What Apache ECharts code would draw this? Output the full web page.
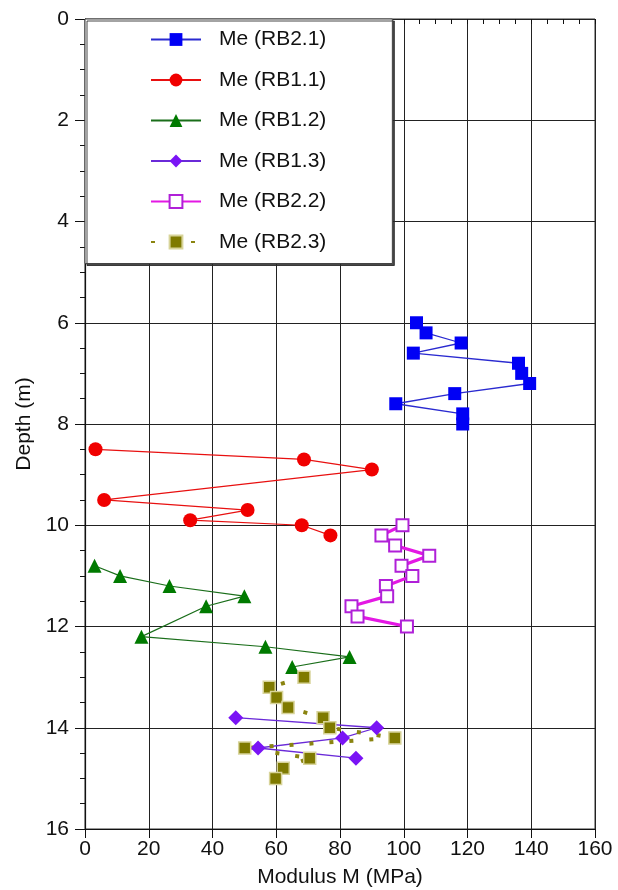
<!DOCTYPE html>
<html>
<head>
<meta charset="utf-8">
<script src="https://cdn.jsdelivr.net/npm/echarts@6/dist/echarts.min.js"></script>
<style>
  html, body { margin: 0; padding: 0; background: #fff; }
  #chart { width: 618px; height: 890px; }
</style>
</head>
<body>
<div id="chart"></div>
<script>
// Modulus (MPa) against depth (m) for each borehole
const depthRB21 = [6.0, 6.2, 6.4, 6.6, 6.8, 7.0, 7.2, 7.4, 7.6, 7.8, 8.0];
const modRB21   = [104, 107, 118, 103, 136, 137, 139.5, 116, 97.5, 118.5, 118.5];

const depthRB11 = [8.5, 8.7, 8.9, 9.5, 9.7, 9.9, 10.0, 10.2];
const modRB11   = [3.3, 68.7, 90, 6, 51, 33, 68, 77];

const depthRB12 = [10.8, 11.0, 11.2, 11.4, 11.6, 12.2, 12.4, 12.6, 12.8];
const modRB12   = [3, 11, 26.5, 50, 38, 17.7, 56.6, 83, 65];

const depthRB13 = [13.8, 14.0, 14.2, 14.4, 14.6];
const modRB13   = [47.3, 91.5, 80.8, 54.3, 85];

const depthRB22 = [10.0, 10.2, 10.4, 10.6, 10.8, 11.0, 11.2, 11.4, 11.6, 11.8, 12.0];
const modRB22   = [99.6, 93, 97.3, 108, 99.3, 102.7, 94.4, 94.8, 83.6, 85.5, 101];

const depthRB23 = [13.0, 13.2, 13.4, 13.6, 13.8, 14.0, 14.2, 14.4, 14.6, 14.8, 15.0];
const modRB23   = [68.7, 57.8, 60.1, 63.7, 74.7, 76.8, 97.2, 50.1, 70.5, 62.2, 59.8];

const seriesNames = ['Me (RB2.1)', 'Me (RB1.1)', 'Me (RB1.2)', 'Me (RB1.3)', 'Me (RB2.2)', 'Me (RB2.3)'];
const xTicks = { min: 0, max: 160, step: 20, minorStep: 5 };
const yTicks = { min: 0, max: 16, step: 2, minorStep: 0.5 };

function pairs(mods, depths) {
  return mods.map((m, i) => [m, depths[i]]);
}

const FONT = 'Liberation Sans, Arial, Helvetica, sans-serif';
const chart = echarts.init(document.getElementById('chart'), null, { renderer: 'canvas' });

// axis carrying only the minor ticks
function minorAxis(base, extra) {
  return Object.assign({
    type: 'value',
    min: base.min, max: base.max, interval: base.minorStep,
    axisLine: { show: false },
    axisTick: { show: true, length: 5, lineStyle: { color: '#111' } },
    axisLabel: { show: false },
    splitLine: { show: false }
  }, extra);
}

chart.setOption({
  animation: false,
  backgroundColor: '#ffffff',
  textStyle: { fontFamily: FONT },
  grid: {
    left: 85, right: 23, top: 19, bottom: 61,
    outerBoundsMode: 'none', containLabel: false,
    show: true, borderColor: '#333', borderWidth: 1, backgroundColor: 'transparent'
  },
  legend: {
    orient: 'vertical',
    left: 85, top: 19,
    padding: [10, 66, 11, 65],
    itemWidth: 50, itemHeight: 16, itemGap: 19.5,
    backgroundColor: '#ffffff',
    borderColor: '#444', borderWidth: 1,
    shadowColor: 'rgba(40,40,40,0.85)', shadowOffsetX: 2, shadowOffsetY: 2, shadowBlur: 0,
    textStyle: { fontSize: 21, color: '#111', padding: [0, 0, 0, 13], fontFamily: FONT },
    data: seriesNames
  },
  xAxis: [
    {
      type: 'value', position: 'bottom',
      min: xTicks.min, max: xTicks.max, interval: xTicks.step,
      name: 'Modulus M (MPa)', nameLocation: 'middle', nameGap: 38,
      nameTextStyle: { fontSize: 21, color: '#111' },
      axisLine: { show: true, onZero: false, lineStyle: { color: '#111', width: 1.2 } },
      axisTick: { show: true, inside: false, length: 9, lineStyle: { color: '#111' } },
      axisLabel: { fontSize: 21, color: '#111', margin: 10 },
      splitLine: { show: true, lineStyle: { color: '#222', width: 1 } }
    },
    minorAxis(xTicks, { position: 'bottom' })
  ],
  yAxis: [
    {
      type: 'value', inverse: true, position: 'left',
      min: yTicks.min, max: yTicks.max, interval: yTicks.step,
      name: 'Depth (m)', nameLocation: 'middle', nameGap: 50, nameRotate: 90,
      nameTextStyle: { fontSize: 21, color: '#111' },
      axisLine: { show: true, onZero: false, lineStyle: { color: '#111', width: 1.2 } },
      axisTick: { show: true, inside: false, length: 10, lineStyle: { color: '#111' } },
      axisLabel: { fontSize: 21, color: '#111', margin: 16 },
      splitLine: { show: true, lineStyle: { color: '#222', width: 1 } }
    },
    minorAxis(yTicks, { inverse: true, position: 'left' })
  ],
  series: [
    {
      name: seriesNames[0], type: 'line', data: pairs(modRB21, depthRB21),
      symbol: 'rect', symbolSize: 13,
      itemStyle: { color: '#0000f5' },
      lineStyle: { color: '#2a2ad0', width: 1.3 }
    },
    {
      name: seriesNames[1], type: 'line', data: pairs(modRB11, depthRB11),
      symbol: 'circle', symbolSize: 14,
      itemStyle: { color: '#f00000' },
      lineStyle: { color: '#e81010', width: 1.2 }
    },
    {
      name: seriesNames[2], type: 'line', data: pairs(modRB12, depthRB12),
      symbol: 'triangle', symbolSize: 14,
      itemStyle: { color: '#007a00' },
      lineStyle: { color: '#1a6e1a', width: 1.2 }
    },
    {
      name: seriesNames[3], type: 'line', data: pairs(modRB13, depthRB13),
      symbol: 'diamond', symbolSize: 15,
      itemStyle: { color: '#7a14f5' },
      lineStyle: { color: '#6a2ad8', width: 1.3 }
    },
    {
      name: seriesNames[4], type: 'line', data: pairs(modRB22, depthRB22),
      symbol: 'rect', symbolSize: 12,
      itemStyle: { color: '#ffffff', borderColor: '#b020d8', borderWidth: 2 },
      lineStyle: { color: '#e418e4', width: 3.2 }
    },
    {
      name: seriesNames[5], type: 'line', data: pairs(modRB23, depthRB23),
      symbol: 'rect', symbolSize: 12,
      itemStyle: { color: '#7f7a00', borderColor: '#d8d49a', borderWidth: 1.5 },
      lineStyle: { color: '#8a8410', width: 4, type: [4, 16], cap: 'butt' }
    }
  ]
});
</script>
</body>
</html>
